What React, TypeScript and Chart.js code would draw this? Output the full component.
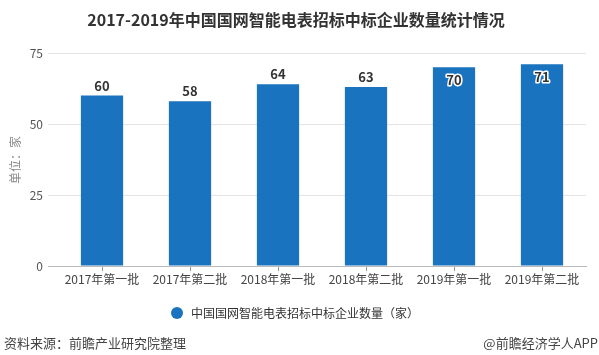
import React, { useEffect, useRef } from "react";
import { Chart, registerables } from "chart.js";

Chart.register(...registerables);

const categories = ["2017年第一批", "2017年第二批", "2018年第一批", "2018年第二批", "2019年第一批", "2019年第二批"];
const values = [60, 58, 64, 63, 70, 71];
const yTicks = [0, 25, 50, 75];
const titleText = "2017-2019年中国国网智能电表招标中标企业数量统计情况";
const seriesName = "中国国网智能电表招标中标企业数量（家）";
const unitText = "单位：家";
const sourceText = "资料来源：前瞻产业研究院整理";
const brandText = "@前瞻经济学人APP";

const FONT = "'Noto Sans CJK SC', 'Noto Sans', sans-serif";
const BAR = "#1a73be";

const overlay = {
  id: "overlay",
  beforeDatasetsDraw(chart: any) {
    const ctx = chart.ctx;
    const a = chart.chartArea;
    ctx.save();
    ctx.strokeStyle = "#bbb";
    ctx.lineWidth = 1;
    ctx.beginPath();
    ctx.moveTo(48, Math.round(a.bottom) + 0.5);
    ctx.lineTo(a.left, Math.round(a.bottom) + 0.5);
    ctx.stroke();
    ctx.restore();
  },
  afterDatasetsDraw(chart: any) {
    const ctx = chart.ctx;
    const meta = chart.getDatasetMeta(0);
    ctx.save();
    ctx.font = `bold 13px ${FONT}`;
    ctx.textAlign = "center";
    ctx.textBaseline = "middle";
    meta.data.forEach((el: any, i: number) => {
      const inside = values[i] >= 70;
      const y = inside ? el.y + 13 : el.y - 10;
      if (inside) {
        ctx.lineWidth = 3;
        ctx.strokeStyle = "#fff";
        ctx.lineJoin = "round";
        ctx.strokeText(String(values[i]), el.x, y);
      }
      ctx.fillStyle = "#333";
      ctx.fillText(String(values[i]), el.x, y);
    });
    ctx.restore();
  },
  afterDraw(chart: any) {
    const ctx = chart.ctx;
    ctx.save();
    // title
    ctx.fillStyle = "#333";
    ctx.font = `bold 16px ${FONT}`;
    ctx.textAlign = "center";
    ctx.textBaseline = "middle";
    ctx.fillText(titleText, 296, 20);
    // unit label
    ctx.save();
    ctx.translate(15, 160);
    ctx.rotate(-Math.PI / 2);
    ctx.fillStyle = "#888";
    ctx.font = `12px ${FONT}`;
    ctx.fillText(unitText, 0, 0);
    ctx.restore();
    // legend
    ctx.fillStyle = BAR;
    ctx.beginPath();
    ctx.arc(177, 313, 6, 0, Math.PI * 2);
    ctx.fill();
    ctx.fillStyle = "#333";
    ctx.font = `12px ${FONT}`;
    ctx.textAlign = "left";
    ctx.fillText(seriesName, 191, 313);
    // footer
    ctx.fillStyle = "#444";
    ctx.font = `13px ${FONT}`;
    ctx.textAlign = "left";
    ctx.fillText(sourceText, 4, 343);
    ctx.textAlign = "right";
    ctx.fillText(brandText, 598, 343);
    ctx.restore();
  },
};

export default function App() {
  const ref = useRef<HTMLCanvasElement>(null);
  useEffect(() => {
    document.body.style.margin = "0";
    const chart = new Chart(ref.current!, {
      type: "bar",
      data: {
        labels: categories,
        datasets: [
          {
            label: seriesName,
            data: values,
            backgroundColor: BAR,
            barPercentage: 0.48,
            categoryPercentage: 1,
          },
        ],
      },
      options: {
        animation: false,
        responsive: false,
        devicePixelRatio: 1,
        layout: { padding: { top: 53, right: 13, left: 0, bottom: 0 } },
        plugins: { legend: { display: false }, title: { display: false }, tooltip: { enabled: false } },
        scales: {
          x: {
            grid: { display: true, drawOnChartArea: false, drawTicks: true, tickLength: 5, offset: false, color: "#999" },
            border: { display: true, color: "#bbb" },
            ticks: { color: "#444", font: { size: 12, family: FONT }, padding: 1, maxRotation: 0 },
            afterFit: (s: any) => { s.height = 89; },
          },
          y: {
            min: 0,
            max: 75,
            afterBuildTicks: (s: any) => { s.ticks = yTicks.map((v) => ({ value: v })); },
            grid: { color: "#e3e3e3", drawTicks: true, tickLength: 10 },
            border: { display: false },
            ticks: { color: "#555", font: { size: 12, family: FONT }, padding: 5 },
            afterFit: (s: any) => { s.width = 58; },
          },
        },
      },
      plugins: [overlay],
    });
    return () => chart.destroy();
  }, []);
  return (
    <div style={{ position: "absolute", left: 0, top: 0, width: 599, height: 355, background: "#fff" }}>
      <canvas ref={ref} width={599} height={355} />
    </div>
  );
}
